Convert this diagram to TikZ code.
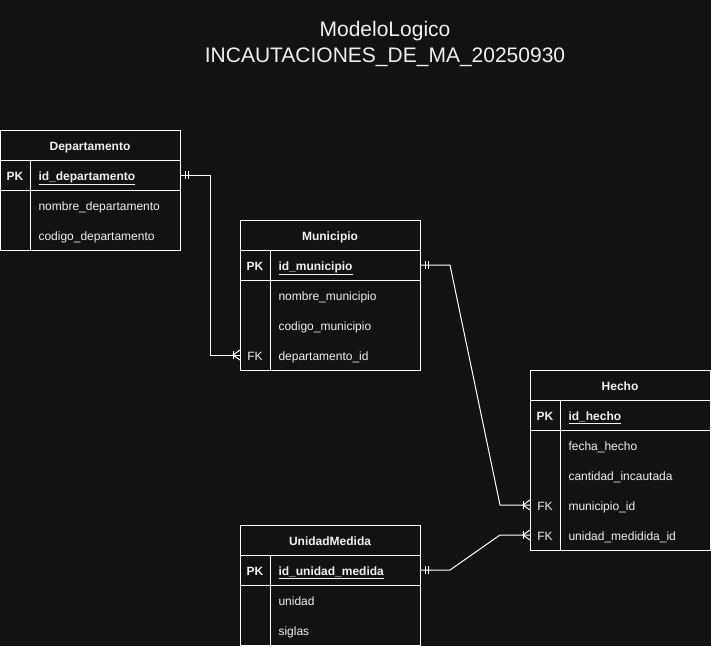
\documentclass[tikz,border=0pt]{standalone}
\usepackage{fontspec}
\setmainfont{Liberation Sans}
\usetikzlibrary{positioning,decorations.markings}
\definecolor{bgdark}{HTML}{121212}
\definecolor{txtlight}{HTML}{F0F0F0}

\begin{document}
\begin{tikzpicture}[x=1pt,y=-1pt,line width=1pt,white,
  every node/.style={text=txtlight,font=\fontsize{12}{14}\selectfont},
  celltxt/.style={text height=10.2pt,text depth=0pt},
  hdr/.style={draw,celltxt,anchor=north west,minimum width=180pt,minimum height=30pt,inner sep=0pt,outer sep=0pt,font=\fontsize{12}{14}\selectfont\bfseries},
  fieldrow/.style={minimum width=180pt,minimum height=30pt,inner sep=0pt,outer sep=0pt},
  pktxt/.style={celltxt,font=\fontsize{12}{14}\selectfont\bfseries},
  fktxt/.style={celltxt},
  fld/.style={celltxt,anchor=west,inner sep=0pt},
  onebar/.style={postaction={decorate,decoration={markings,
    mark=at position 5pt with {\draw (0,-4pt) -- (0,4pt);},
    mark=at position 8pt with {\draw (0,-4pt) -- (0,4pt);}}}},
  crowfoot/.style={postaction={decorate,decoration={markings,
    mark=at position -7pt with {\draw (0,-4pt) -- (0,4pt); \draw (7pt,-5pt) -- (0,0) -- (7pt,5pt);}}}}]
  \fill[bgdark] (0,0) rectangle (711,646);
  \useasboundingbox (0,0) rectangle (711,646);

  %title
  \node[font=\fontsize{21}{26}\selectfont,align=center] (title) at (385,44) {ModeloLogico\\INCAUTACIONES\_DE\_MA\_20250930};

  %Departamento
  \node[hdr] (dep) at (0,130) {Departamento};
  \node[fieldrow,draw,below=0pt of dep] (dep-pk) {};
  \node[fieldrow,below=0pt of dep-pk] (dep-r1) {};
  \node[fieldrow,below=0pt of dep-r1] (dep-r2) {};
  \draw (dep-r1.north west) rectangle (dep-r2.south east);
  \draw ([xshift=30pt]dep-pk.north west) -- ([xshift=30pt]dep-r2.south west);
  \node[pktxt] at ([xshift=15pt]dep-pk.west) {PK};
  \node[fld,pktxt] at ([xshift=38pt]dep-pk.west) {\underline{id\_departamento}};
  \node[fld] at ([xshift=38pt]dep-r1.west) {nombre\_departamento};
  \node[fld] at ([xshift=38pt]dep-r2.west) {codigo\_departamento};

  %Municipio
  \node[hdr] (mun) at (240,220) {Municipio};
  \node[fieldrow,draw,below=0pt of mun] (mun-pk) {};
  \node[fieldrow,below=0pt of mun-pk] (mun-r1) {};
  \node[fieldrow,below=0pt of mun-r1] (mun-r2) {};
  \node[fieldrow,below=0pt of mun-r2] (mun-fk) {};
  \draw (mun-r1.north west) rectangle (mun-fk.south east);
  \draw ([xshift=30pt]mun-pk.north west) -- ([xshift=30pt]mun-fk.south west);
  \node[pktxt] at ([xshift=15pt]mun-pk.west) {PK};
  \node[fld,pktxt] at ([xshift=38pt]mun-pk.west) {\underline{id\_municipio}};
  \node[fld] at ([xshift=38pt]mun-r1.west) {nombre\_municipio};
  \node[fld] at ([xshift=38pt]mun-r2.west) {codigo\_municipio};
  \node[fktxt] at ([xshift=15pt]mun-fk.west) {FK};
  \node[fld] at ([xshift=38pt]mun-fk.west) {departamento\_id};

  %Hecho
  \node[hdr] (hec) at (530,370) {Hecho};
  \node[fieldrow,draw,below=0pt of hec] (hec-pk) {};
  \node[fieldrow,below=0pt of hec-pk] (hec-r1) {};
  \node[fieldrow,below=0pt of hec-r1] (hec-r2) {};
  \node[fieldrow,below=0pt of hec-r2] (hec-fk1) {};
  \node[fieldrow,below=0pt of hec-fk1] (hec-fk2) {};
  \draw (hec-r1.north west) rectangle (hec-fk2.south east);
  \draw ([xshift=30pt]hec-pk.north west) -- ([xshift=30pt]hec-fk2.south west);
  \node[pktxt] at ([xshift=15pt]hec-pk.west) {PK};
  \node[fld,pktxt] at ([xshift=38pt]hec-pk.west) {\underline{id\_hecho}};
  \node[fld] at ([xshift=38pt]hec-r1.west) {fecha\_hecho};
  \node[fld] at ([xshift=38pt]hec-r2.west) {cantidad\_incautada};
  \node[fktxt] at ([xshift=15pt]hec-fk1.west) {FK};
  \node[fld] at ([xshift=38pt]hec-fk1.west) {municipio\_id};
  \node[fktxt] at ([xshift=15pt]hec-fk2.west) {FK};
  \node[fld] at ([xshift=38pt]hec-fk2.west) {unidad\_medidida\_id};

  %UnidadMedida
  \node[hdr] (uni) at (240,525) {UnidadMedida};
  \node[fieldrow,draw,below=0pt of uni] (uni-pk) {};
  \node[fieldrow,below=0pt of uni-pk] (uni-r1) {};
  \node[fieldrow,below=0pt of uni-r1] (uni-r2) {};
  \draw (uni-r1.north west) rectangle (uni-r2.south east);
  \draw ([xshift=30pt]uni-pk.north west) -- ([xshift=30pt]uni-r2.south west);
  \node[pktxt] at ([xshift=15pt]uni-pk.west) {PK};
  \node[fld,pktxt] at ([xshift=38pt]uni-pk.west) {\underline{id\_unidad\_medida}};
  \node[fld] at ([xshift=38pt]uni-r1.west) {unidad};
  \node[fld] at ([xshift=38pt]uni-r2.west) {siglas};

  %relations
  \draw[onebar,crowfoot] (dep-pk.east) -- ++(30,0) |- (mun-fk.west);
  \draw[onebar,crowfoot] (mun-pk.east) -- ++(30,0) -- ([xshift=-30pt]hec-fk1.west) -- (hec-fk1.west);
  \draw[onebar,crowfoot] (uni-pk.east) -- ++(30,0) -- ([xshift=-30pt]hec-fk2.west) -- (hec-fk2.west);
\end{tikzpicture}
\end{document}
